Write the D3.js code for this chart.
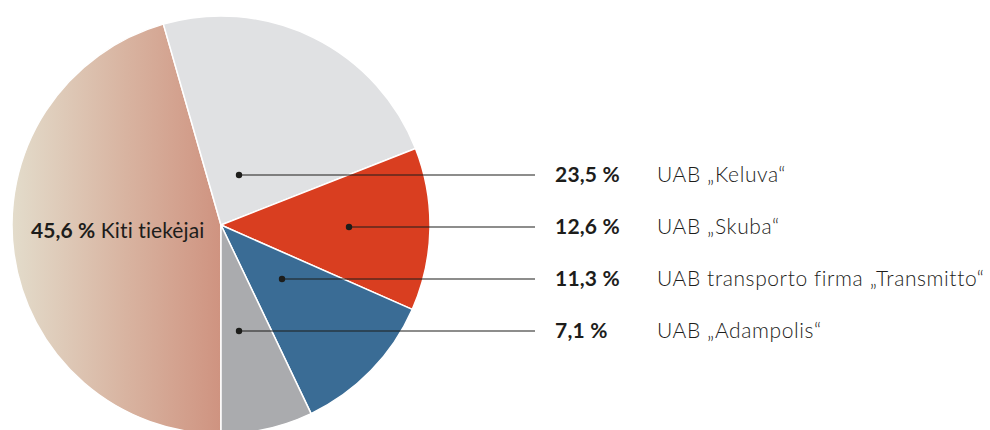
<!DOCTYPE html>
<html>
<head>
<meta charset="utf-8">
<script src="https://cdn.jsdelivr.net/npm/d3@7"></script>
<style>
  body { margin: 0; background: #fff; }
  svg text { font-family: Lato, "Open Sans", sans-serif; fill: #1d1d1b; }
</style>
</head>
<body>
<svg id="chart" width="990" height="430"></svg>
<script>
// data, clockwise from the bottom
var names = ["Kiti tiekėjai", "UAB „Keluva“", "UAB „Skuba“", "UAB transporto firma „Transmitto“", "UAB „Adampolis“"];
var shares = [45.6, 23.5, 12.6, 11.3, 7.1];
var labels = ["45,6 %", "23,5 %", "12,6 %", "11,3 %", "7,1 %"];
var colors = ["url(#kitiGrad)", "#e0e1e3", "#d93e20", "#3a6c95", "#aaabae"];

// dot x offsets from centre for the leader lines (layout only)
var dotX = [null, 18, 128, 61, 18];

var cx = 221, cy = 225, radius = 209;

var svg = d3.select("#chart");

// gradient coords are in the pie group's space (centre = 0,0)
var grad = svg.append("defs").append("linearGradient")
    .attr("id", "kitiGrad")
    .attr("gradientUnits", "userSpaceOnUse")
    .attr("x1", -radius).attr("x2", 0)
    .attr("y1", 0).attr("y2", 0);
grad.append("stop").attr("offset", "0%").attr("stop-color", "#e3dccb");
grad.append("stop").attr("offset", "55%").attr("stop-color", "#d8b3a0");
grad.append("stop").attr("offset", "100%").attr("stop-color", "#cf9380");

var pie = d3.pie().sort(null).value(d => d)
    .startAngle(Math.PI).endAngle(3 * Math.PI);
var arcs = pie(shares);
var arc = d3.arc().innerRadius(0).outerRadius(radius);

var g = svg.append("g").attr("transform", "translate(" + cx + "," + cy + ")");

g.selectAll("path")
    .data(arcs)
    .enter()
    .append("path")
    .attr("d", arc)
    .attr("fill", (d, i) => colors[i])
    .attr("stroke", "#fff")
    .attr("stroke-width", 1.5)
    .attr("stroke-linejoin", "round");

// rows on the right
var rows = d3.scalePoint()
    .domain(names.slice(1))
    .range([175, 331]);

var legend = svg.append("g");
names.slice(1).forEach((n, k) => {
    let i = k + 1;
    let y = rows(n);
    let x0 = cx + dotX[i];
    legend.append("line")
        .attr("x1", x0).attr("x2", 535)
        .attr("y1", y).attr("y2", y)
        .attr("stroke", "#1d1d1b")
        .attr("stroke-width", 1.2);
    legend.append("circle")
        .attr("cx", x0).attr("cy", y).attr("r", 3.2)
        .attr("fill", "#1d1d1b");
    legend.append("text")
        .attr("x", 555).attr("y", y + 7)
        .style("font-size", "21px")
        .style("font-weight", 700)
        .style("letter-spacing", "0.2px")
        .text(labels[i]);
    legend.append("text")
        .attr("x", 657).attr("y", y + 7)
        .style("font-size", "21px")
        .style("font-weight", 300)
        .style("letter-spacing", "0.6px")
        .text(n);
});

// label inside the big slice
var kiti = svg.append("text")
    .attr("x", 31).attr("y", 238)
    .style("font-size", "21px")
    .style("letter-spacing", "0.1px");
kiti.append("tspan").style("font-weight", 700).text(labels[0]);
kiti.append("tspan").style("font-weight", 400).text(" " + names[0]);
</script>
</body>
</html>
